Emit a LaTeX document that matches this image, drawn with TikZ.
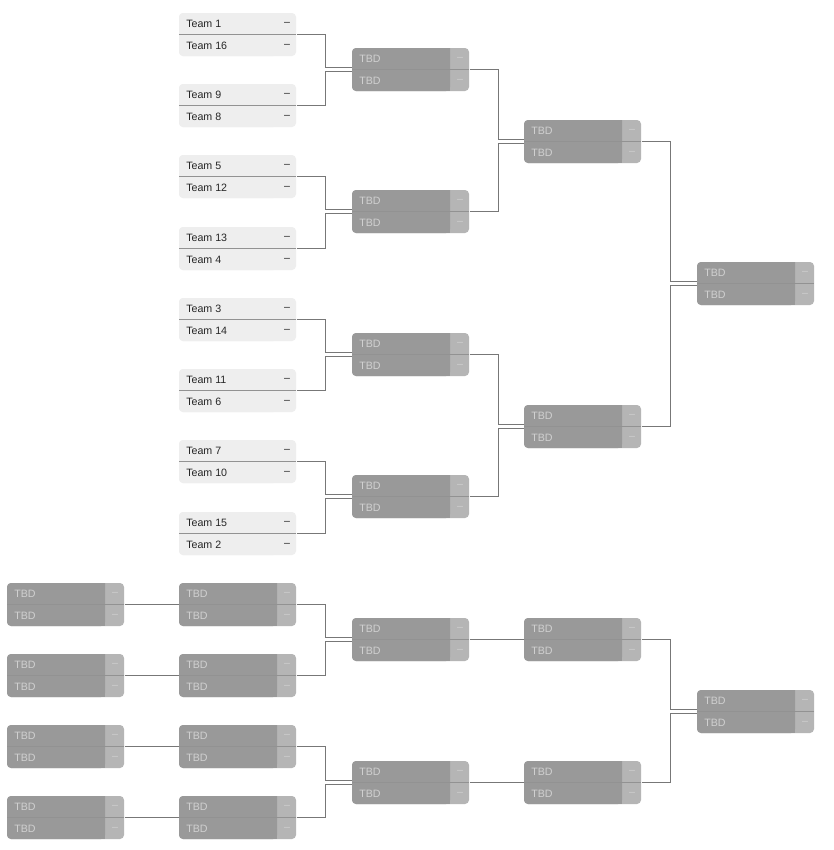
\documentclass[tikz,border=0pt]{standalone}
\usepackage{fontspec}
\setmainfont{Liberation Sans}
\definecolor{tbg}{HTML}{EEEEEE}
\definecolor{tbd}{HTML}{999999}
\definecolor{tsc}{HTML}{B5B5B5}
\definecolor{ttx}{HTML}{D0D0D0}
\definecolor{lin}{HTML}{777777}
\tikzset{
  box/.style={minimum width=87.75pt,minimum height=32.25pt,inner sep=0pt,anchor=north west},
  con/.style={draw=lin,line width=0.6pt},
  lbl/.style={font=\fontsize{8}{9}\selectfont,anchor=west,inner sep=0pt}
}
% \mt{name}{x}{y}{main}{score}{text}{t1}{t2}
\newcommand{\mt}[8]{%
  \fill[#5,rounded corners=3pt] (#2,#3) rectangle ++(117,43);
  \fill[#4,rounded corners=3pt] (#2+98,#3) -- (#2,#3) -- (#2,#3+43) -- (#2+98,#3+43) [sharp corners]-- cycle;
  \fill[#4] (#2+90,#3) rectangle (#2+98,#3+43);
  \draw[lin!80,line width=0.6pt] (#2,#3+21.5) -- ++(117,0);
  \node[box] (#1) at (#2,#3) {};
  \node[lbl,text=#6] (#1a) at (#2+7,#3+11) {#7};
  \node[lbl,text=#6] (#1b) at (#2+7,#3+33) {#8};
  \node[lbl,text=#6,anchor=center] (#1c) at (#2+108,#3+11) {--};
  \node[lbl,text=#6,anchor=center] (#1d) at (#2+108,#3+33) {--};
}
\newcommand{\tm}[5]{\mt{#1}{#2}{#3}{tbg}{tbg}{black!85}{#4}{#5}}
\newcommand{\td}[3]{\mt{#1}{#2}{#3}{tbd}{tsc}{ttx}{TBD}{TBD}}
\newcommand{\pair}[3]{%
  \draw[con] (#1.east) -- ++(29,0) |- ([yshift=1.5pt]#3.west);
  \draw[con] (#2.east) -- ++(29,0) |- ([yshift=-1.5pt]#3.west);
}
\begin{document}
\begin{tikzpicture}[x=0.75pt,y=-0.75pt]
\useasboundingbox (0,0) rectangle (833,850);
\fill[white] (0,0) rectangle (833,850);
\tm{a1}{179}{13}{Team 1}{Team 16}
\tm{a2}{179}{84}{Team 9}{Team 8}
\tm{a3}{179}{155}{Team 5}{Team 12}
\tm{a4}{179}{227}{Team 13}{Team 4}
\tm{a5}{179}{298}{Team 3}{Team 14}
\tm{a6}{179}{369}{Team 11}{Team 6}
\tm{a7}{179}{440}{Team 7}{Team 10}
\tm{a8}{179}{512}{Team 15}{Team 2}
\td{b1}{352}{48}\td{b2}{352}{190}\td{b3}{352}{333}\td{b4}{352}{475}
\td{c1}{524}{120}\td{c2}{524}{405}
\td{f}{697}{262}
\td{l1}{7}{583}\td{l2}{7}{654}\td{l3}{7}{725}\td{l4}{7}{796}
\td{m1}{179}{583}\td{m2}{179}{654}\td{m3}{179}{725}\td{m4}{179}{796}
\td{n1}{352}{618}\td{n2}{352}{761}
\td{o1}{524}{618}\td{o2}{524}{761}
\td{g}{697}{690}
\pair{a1}{a2}{b1}\pair{a3}{a4}{b2}\pair{a5}{a6}{b3}\pair{a7}{a8}{b4}
\pair{b1}{b2}{c1}\pair{b3}{b4}{c2}
\pair{c1}{c2}{f}
\draw[con] (l1.east) -- (m1.west);\draw[con] (l2.east) -- (m2.west);
\draw[con] (l3.east) -- (m3.west);\draw[con] (l4.east) -- (m4.west);
\pair{m1}{m2}{n1}\pair{m3}{m4}{n2}
\draw[con] (n1.east) -- (o1.west);\draw[con] (n2.east) -- (o2.west);
\pair{o1}{o2}{g}
\end{tikzpicture}
\end{document}
